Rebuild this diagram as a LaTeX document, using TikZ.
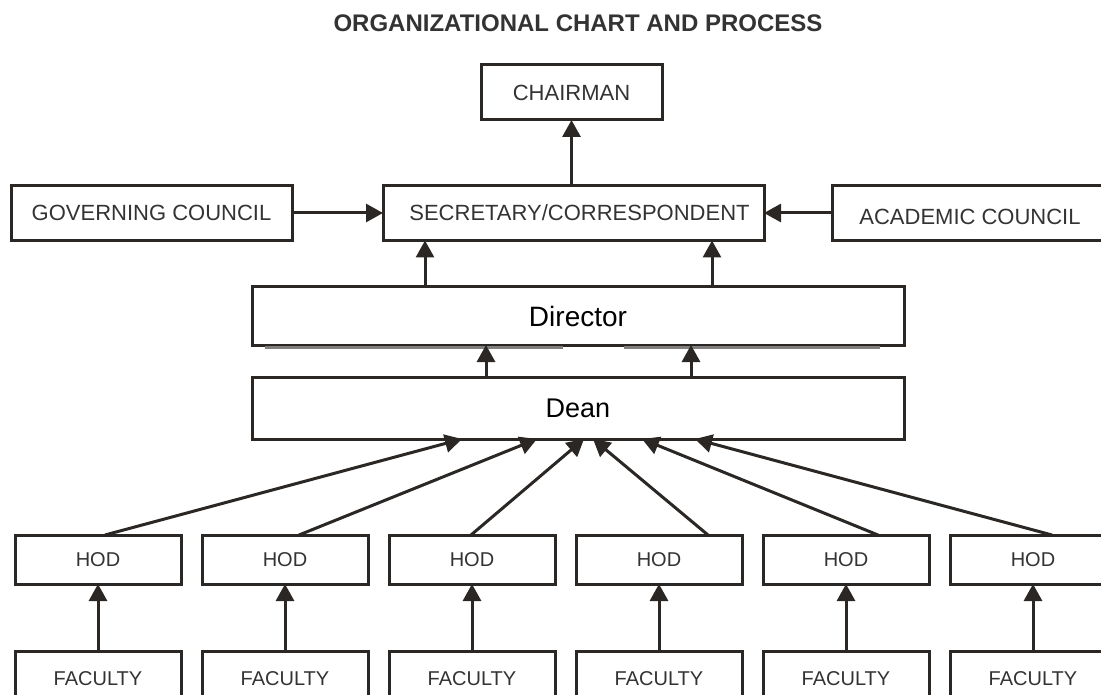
\documentclass[tikz,border=0pt]{standalone}
\usepackage{fontspec}
\setmainfont{Liberation Sans}
\usepackage{xcolor}
\usetikzlibrary{arrows.meta, positioning, calc}
\definecolor{chartline}{HTML}{2B2725}
\definecolor{charttext}{HTML}{333333}
\tikzset{
    post/.style={
        rectangle,
        draw=chartline,
        line width=3pt,
        minimum width=166pt,
        minimum height=49pt,
        inner sep=0pt,
        outer sep=0pt,
        fill=white,
        text=charttext,
        font=\fontsize{20}{24}\selectfont
    },
    bigpost/.style={
        post,
        minimum height=55pt,
        font=\fontsize{22}{26}\selectfont
    },
    widepost/.style={
        post,
        minimum width=652pt,
        text=black,
        font=\fontsize{28}{32}\selectfont
    },
    link/.style={
        draw=chartline,
        line width=3pt,
        -{Triangle[length=17pt,width=18pt]}
    },
    shadowline/.style={
        draw=black!50,
        line width=2.5pt
    }
}
\begin{document}
\begin{tikzpicture}[x=1pt, y=-1pt, node distance=67pt and 21pt]
\useasboundingbox (0,0) rectangle (1101,695);

\node[font=\bfseries\fontsize{24}{28}\selectfont, text=charttext] (title) at (578,23) {ORGANIZATIONAL CHART AND PROCESS};

\node[bigpost, minimum width=181pt] (chairman) at (571.5,92.5) {CHAIRMAN};
\node[bigpost, minimum width=381pt] (secretary) at (573.5,213) {\hspace*{12pt}SECRETARY/CORRESPONDENT};
\node[bigpost, minimum width=281pt] (governing) at (151.5,213) {GOVERNING COUNCIL};
\node[bigpost, minimum width=276pt] (academic) at (970,213) {\raisebox{-4pt}[\height][\depth]{ACADEMIC COUNCIL}};

\node[widepost, minimum height=58pt] (director) at (578,316) {Director};
\node[widepost, minimum height=62pt, font=\fontsize{27}{31}\selectfont] (dean) at (578,408) {Dean};

\node[post] (hod1) at (98,559.5) {HOD};
\node[post, right=of hod1] (hod2) {HOD};
\node[post, right=of hod2] (hod3) {HOD};
\node[post, right=of hod3] (hod4) {HOD};
\node[post, right=of hod4] (hod5) {HOD};
\node[post, right=of hod5] (hod6) {HOD};

\node[post, minimum height=55pt, below=of hod1] (faculty1) {FACULTY};
\node[post, minimum height=55pt, below=of hod2] (faculty2) {FACULTY};
\node[post, minimum height=55pt, below=of hod3] (faculty3) {FACULTY};
\node[post, minimum height=55pt, below=of hod4] (faculty4) {FACULTY};
\node[post, minimum height=55pt, below=of hod5] (faculty5) {FACULTY};
\node[post, minimum height=55pt, below=of hod6] (faculty6) {FACULTY};

% doubled edge under the director box
\draw[shadowline] ($(director.south west)+(13,2.5)$) -- ($(director.south west)+(311,2.5)$);
\draw[shadowline] ($(director.south west)+(372,2.5)$) -- ($(director.south west)+(628,2.5)$);

\draw[link] (faculty1) -- (hod1);
\draw[link] (faculty2) -- (hod2);
\draw[link] (faculty3) -- (hod3);
\draw[link] (faculty4) -- (hod4);
\draw[link] (faculty5) -- (hod5);
\draw[link] (faculty6) -- (hod6);

\draw[link] ([xshift=7pt]hod1.north) -- ([xshift=-116pt]dean.south);
\draw[link] ([xshift=14pt]hod2.north) -- ([xshift=-41pt]dean.south);
\draw[link] ([xshift=-1pt]hod3.north) -- ([xshift=6pt]dean.south);
\draw[link] ([xshift=49pt]hod4.north) -- ([xshift=15pt]dean.south);
\draw[link] ([xshift=32pt]hod5.north) -- ([xshift=64pt]dean.south);
\draw[link] ([xshift=19pt]hod6.north) -- ([xshift=117pt]dean.south);

\draw[link] ([xshift=-92pt]dean.north) -- ([xshift=-92pt]director.south);
\draw[link] ([xshift=113pt]dean.north) -- ([xshift=113pt]director.south);

\draw[link] ([xshift=-153pt]director.north) -- ([xshift=-153pt]director.north |- secretary.south);
\draw[link] ([xshift=134pt]director.north) -- ([xshift=134pt]director.north |- secretary.south);

\draw[link] (secretary.north -| chairman.south) -- (chairman.south);
\draw[link] (governing) -- (secretary);
\draw[link] (academic) -- (secretary);

\end{tikzpicture}
\end{document}
